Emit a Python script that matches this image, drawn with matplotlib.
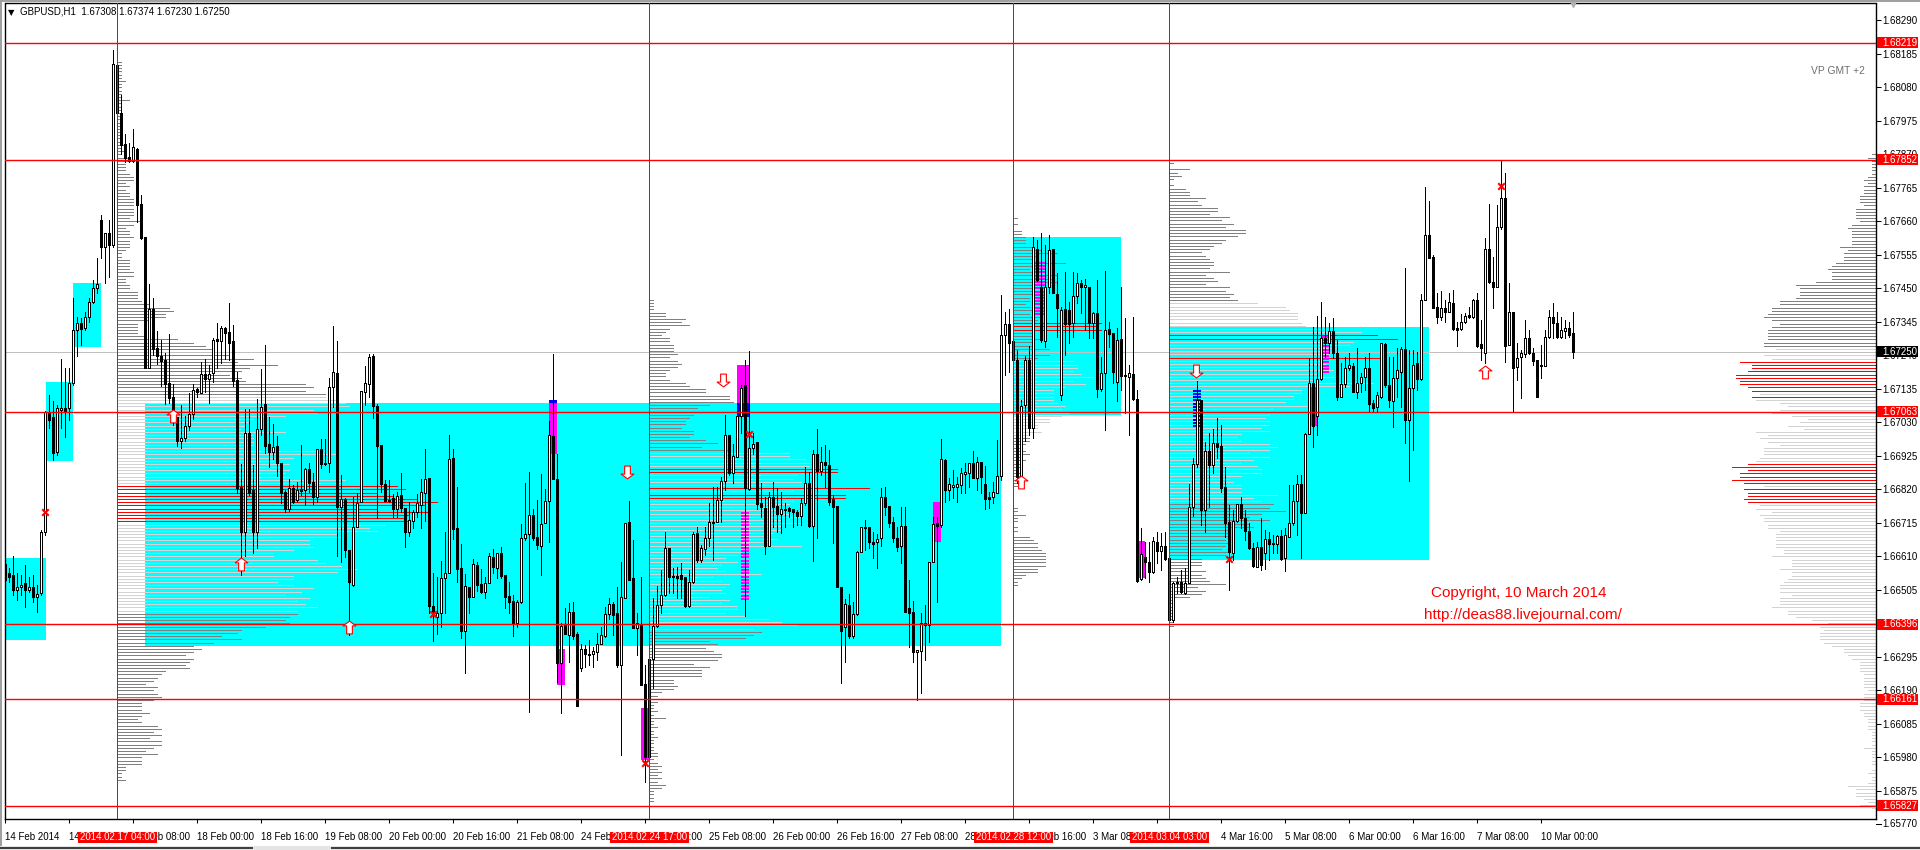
import numpy as np
import matplotlib
matplotlib.use("Agg")
import matplotlib.pyplot as plt
from matplotlib.patches import Rectangle
from matplotlib.path import Path

plt.rcParams['font.family'] = ['Liberation Sans', 'DejaVu Sans']

# GBPUSD H1 candles, values are points above 1.60000
opens = [
    6585,6557,6551,6504,6513,6526,6504,6513,6482,6495,6686,7059,7046,6936,7068,7074,
    7074,7153,7319,7341,7325,7360,7407,7450,7664,7579,7623,7585,8149,7999,7902,7861,
    7848,7886,7714,7610,7200,7385,7262,7237,7225,7153,7109,7046,6971,6980,7018,7056,
    7134,7121,7181,7165,7184,7291,7284,7325,7313,7284,7162,6827,6686,6996,6817,6686,
    7008,7087,6961,6936,6955,6902,6811,6758,6824,6786,6820,6817,6883,6842,6795,6946,
    6902,6902,7140,7184,6764,6789,6629,6520,6702,6780,7125,7150,7237,7081,6958,6836,
    6786,6792,6758,6802,6761,6686,6720,6748,6770,6808,6855,6454,6419,6432,6542,6557,
    6918,6698,6573,6375,6513,6482,6582,6523,6498,6526,6607,6573,6620,6551,6485,6470,
    6401,6466,6667,6680,6739,6670,6642,6714,6783,6986,6852,6275,6394,6363,6435,6366,
    6259,6319,6303,6303,6310,6335,6360,6429,6460,6432,6269,6479,6717,6542,6385,6397,
    6209,5981,6288,6391,6457,6488,6636,6545,6548,6551,6545,6454,6529,6683,6598,6633,
    6667,6714,6717,6786,6846,6990,6870,6921,7049,7147,6821,6949,6968,6777,6761,6642,
    6795,6767,6742,6755,6761,6758,6748,6736,6777,6839,6705,6930,6877,6905,6896,6789,
    6767,6513,6388,6457,6360,6429,6623,6702,6702,6654,6654,6667,6795,6767,6717,6667,
    6642,6705,6448,6435,6310,6313,6401,6394,6592,6714,6708,6911,6817,6827,6827,6833,
    6868,6871,6902,6855,6905,6836,6795,6795,6808,6861,7303,7338,7284,7225,6858,7084,
    7225,7012,7573,7454,7284,7454,7573,7432,7115,7385,7381,7341,7425,7466,7454,7454,
    7341,7372,7134,7184,7322,7309,7156,7291,7178,7172,7181,7103,6539,6607,6592,6560,
    6654,6626,6642,6604,6410,6529,6529,6495,6526,6764,6899,7099,6755,6940,6896,6965,
    6955,6827,6717,6620,6720,6773,6730,6689,6636,6576,6639,6620,6664,6651,6648,6673,
    6604,6670,6714,6783,6836,6745,6993,7153,7049,7165,7294,7278,7316,7247,7109,7150,
    7200,7206,7125,7153,7172,7200,7090,7078,7109,7275,7147,7096,7168,7187,7259,7037,
    7137,7215,7165,7413,7617,7548,7391,7360,7388,7375,7403,7325,7322,7344,7366,7360,
    7413,7275,7247,7573,7469,7454,7642,7733,7272,7375,7203,7234,7244,7294,7247,7225,
    7206,7206,7297,7360,7341,7297,7316,7325,7308]
highs = [
    6595,6573,6611,6557,6551,6582,6545,6551,6520,6692,7065,7115,7096,7084,7228,7200,
    7200,7419,7360,7357,7375,7419,7476,7545,7679,7623,7664,8196,8155,8055,7933,7905,
    7949,7889,7742,7610,7463,7419,7316,7287,7247,7306,7150,7046,7084,7049,7121,7150,
    7137,7219,7228,7209,7294,7341,7331,7328,7403,7335,7187,6899,7071,7071,6896,7103,
    7197,7272,7046,7024,6986,6902,6817,6852,6833,6842,6958,6886,6902,6871,6946,6977,
    6977,7168,7331,7284,6864,6792,6629,6795,6808,7128,7206,7244,7244,7087,6958,6849,
    6849,6805,6811,6871,6761,6780,6755,6805,6852,6946,6855,6557,6545,6595,6686,6990,
    6946,6827,6648,6554,6513,6601,6592,6570,6545,6620,6632,6620,6639,6551,6529,6488,
    6473,6711,6839,6874,6758,6786,6868,6820,7034,7244,6930,6401,6448,6463,6466,6372,
    6335,6332,6347,6325,6369,6388,6451,6479,6466,6513,6592,6714,6783,6661,6432,6545,
    6269,6294,6479,6517,6567,6686,6636,6573,6576,6589,6545,6567,6686,6702,6645,6702,
    6777,6827,6827,6858,7052,6990,6961,7049,7147,7225,7253,6996,6968,6839,6795,6811,
    6842,6824,6811,6777,6764,6758,6755,6792,6889,6874,6943,7008,6952,6958,6943,6802,
    6767,6513,6476,6492,6466,6626,6702,6723,6702,6686,6680,6824,6827,6767,6733,6702,
    6764,6764,6535,6470,6316,6432,6457,6592,6733,6733,6977,6914,6855,6880,6858,6886,
    6902,6902,6939,6921,6905,6892,6811,6842,6974,7428,7375,7385,7303,7256,7099,7237,
    7269,7610,7601,7623,7585,7617,7573,7497,7391,7501,7407,7501,7497,7476,7479,7454,
    7375,7476,7234,7504,7344,7309,7325,7454,7357,7209,7360,7131,6698,6654,6654,6670,
    6686,6683,6686,6604,6529,6545,6567,6573,6836,6918,7159,7099,6968,6996,7008,7043,
    7021,6889,6770,6755,6773,6795,6755,6714,6651,6654,6730,6692,6686,6676,6676,6692,
    6698,6833,6833,6864,6864,6996,7231,7328,7363,7407,7360,7341,7357,7287,7215,7234,
    7247,7215,7262,7184,7234,7247,7099,7125,7278,7278,7234,7234,7262,7266,7513,7256,
    7256,7250,7432,7767,7723,7554,7435,7441,7413,7435,7444,7344,7369,7372,7391,7416,
    7435,7350,7607,7714,7548,7711,7848,7811,7466,7375,7278,7256,7350,7319,7262,7225,
    7272,7319,7381,7403,7375,7360,7350,7344,7374]
lows = [
    6523,6529,6488,6473,6488,6451,6498,6467,6435,6488,6677,7012,6911,6927,7012,6983,
    7037,7147,7237,7272,7319,7344,7403,7435,7545,7466,7485,7579,7999,7870,7845,7845,
    7845,7657,7604,7200,7200,7241,7212,7143,7087,7090,7021,6955,6949,6971,7005,7040,
    7109,7121,7125,7090,7156,7200,7215,7228,7225,7143,6808,6551,6611,6802,6620,6636,
    6990,6933,6889,6914,6861,6777,6748,6752,6777,6780,6802,6770,6811,6773,6780,6886,
    6896,6874,7078,6611,6592,6607,6363,6516,6702,6780,7084,7109,7043,6730,6811,6783,
    6780,6733,6733,6748,6639,6673,6698,6733,6698,6720,6432,6344,6366,6388,6432,6557,
    6664,6529,6353,6244,6432,6482,6501,6495,6479,6526,6557,6542,6542,6448,6432,6360,
    6388,6463,6661,6122,6661,6632,6551,6714,6654,6852,6216,6119,6366,6278,6350,6141,
    6250,6263,6269,6263,6285,6335,6357,6413,6363,6263,5987,6479,6535,6385,6300,6206,
    5903,5971,6197,6388,6432,6485,6495,6495,6479,6479,6451,6451,6526,6592,6592,6614,
    6642,6598,6717,6717,6817,6864,6839,6921,6996,6423,6817,6930,6758,6733,6617,6642,
    6702,6686,6683,6702,6733,6702,6708,6708,6770,6702,6595,6667,6864,6827,6770,6651,
    6513,6212,6278,6353,6353,6426,6623,6629,6636,6604,6573,6642,6739,6702,6654,6626,
    6589,6435,6325,6278,6159,6181,6285,6341,6592,6466,6702,6780,6786,6792,6780,6808,
    6808,6827,6855,6817,6808,6758,6761,6777,6808,6849,7178,7187,7178,6839,6849,6971,
    6990,6980,7472,7281,7266,7435,7435,7297,7099,7241,7278,7297,7403,7372,7319,7294,
    7294,7109,7128,7005,7266,7153,7096,7131,7059,6990,7099,6529,6535,6542,6529,6557,
    6589,6567,6598,6410,6404,6495,6495,6492,6526,6736,6889,6708,6686,6764,6871,6918,
    6811,6670,6504,6598,6717,6698,6661,6633,6576,6576,6567,6570,6598,6620,6620,6598,
    6564,6670,6708,6676,6604,6745,6993,6952,6990,7162,7234,7247,7231,7099,7109,7140,
    7193,7125,7106,7125,7131,7062,7062,7062,7106,7140,7078,7015,7109,7078,6965,6846,
    6943,7131,7162,7413,7545,7388,7341,7350,7344,7375,7319,7269,7319,7341,7357,7357,
    7266,7225,7215,7466,7388,7454,7635,7219,7272,7062,7162,7106,7234,7244,7209,7109,
    7168,7206,7294,7294,7294,7294,7294,7297,7230]
closes = [
    6535,6545,6504,6513,6520,6504,6513,6482,6492,6686,7062,7037,6933,7074,7074,7065,
    7153,7319,7341,7322,7360,7407,7450,7463,7579,7623,7585,8152,7999,7899,7858,7848,
    7892,7711,7607,7200,7385,7259,7237,7222,7150,7106,7043,6971,6980,7018,7056,7131,
    7125,7181,7165,7181,7287,7284,7325,7309,7278,7159,6824,6686,6996,6808,6686,7008,
    7078,6955,6936,6952,6902,6808,6758,6824,6780,6817,6814,6883,6839,6795,6946,6899,
    6899,7140,7187,6764,6789,6629,6529,6702,6777,7128,7153,7234,7081,6955,6836,6783,
    6783,6758,6798,6761,6686,6723,6748,6777,6811,6852,6454,6432,6432,6542,6557,6914,
    6695,6570,6375,6516,6482,6585,6520,6498,6526,6611,6576,6620,6548,6482,6466,6401,
    6466,6667,6680,6739,6667,6645,6711,6783,6990,6852,6275,6391,6366,6435,6360,6141,
    6319,6303,6300,6313,6335,6363,6429,6460,6426,6269,6482,6714,6535,6385,6401,6206,
    5981,6288,6391,6457,6488,6636,6545,6548,6542,6539,6454,6529,6680,6598,6636,6667,
    6717,6717,6786,6846,6990,6870,6924,7049,7137,6824,6949,6961,6773,6764,6642,6795,
    6764,6742,6758,6758,6752,6748,6736,6777,6839,6705,6930,6877,6905,6896,6780,6764,
    6513,6375,6460,6360,6429,6623,6702,6698,6654,6648,6664,6795,6764,6714,6667,6639,
    6705,6435,6432,6310,6316,6401,6394,6592,6711,6705,6914,6817,6836,6833,6836,6871,
    6874,6902,6855,6905,6858,6789,6789,6811,6861,7303,7338,7278,7225,6858,7081,7225,
    7012,7579,7476,7287,7454,7570,7435,7388,7381,7338,7338,7425,7466,7454,7460,7341,
    7372,7134,7184,7319,7306,7187,7287,7175,7175,7184,7103,6532,6617,6592,6560,6658,
    6626,6642,6601,6410,6526,6526,6498,6526,6764,6899,7099,6755,6940,6896,6965,6952,
    6824,6714,6623,6720,6773,6730,6689,6636,6579,6639,6582,6664,6648,6648,6673,6601,
    6676,6714,6783,6836,6745,6993,7153,7018,7165,7294,7278,7316,7247,7109,7150,7200,
    7209,7125,7153,7172,7200,7087,7074,7115,7278,7147,7099,7168,7193,7259,7037,7137,
    7209,7165,7413,7617,7545,7388,7360,7388,7375,7407,7322,7319,7344,7363,7360,7413,
    7269,7262,7573,7469,7454,7642,7733,7269,7375,7200,7231,7247,7294,7247,7222,7109,
    7209,7297,7360,7341,7297,7319,7325,7303,7250]

# volume profiles: one row per 10 points, going down from the top price
left_vol = [
    1,1,1,1,1,1,2,1,1,1,1,1,3,1,1,1,1,1,1,1,1,1,1,1,1,1,2,1,2,1,
    3,4,2,2,2,3,4,4,2,3,2,3,3,4,4,4,4,4,4,3,6,4,2,3,3,4,3,3,3,2,1,1,3,3,3,3,4,4,2,2,3,3,5,5,5,6,8,
    13,14,12,12,8,5,5,5,5,7,15,19,22,24,26,28,34,30,40,33,31,28,31,32,47,49,47,52,
    52,55,57,58,49,50,42,34,33,32,31,42,34,34,34,34,32,50,55,44,39,43,41,43,42,43,57,56,
    70,72,65,69,75,80,77,65,78,73,72,73,
    67,63,65,55,56,48,48,49,44,39,39,50,52,56,60,55,44,44,40,44,49,46,42,48,45,47,50,45,
    45,43,42,43,37,31,30,26,31,24,19,21,19,17,19,18,17,18,12,11,10,9,7,10,9,10,11,9,6,6,6,8,6,5,6,
    10,11,9,11,8,11,11,9,7,10,6,6,6,2,2,1,1,2]
second_vol = [
    1,1,1,1,4,4,9,8,10,5,4,3,5,5,6,6,6,7,5,7,8,7,5,4,4,5,9,10,14,14,20,20,21,
    15,12,13,11,10,9,9,8,11,11,10,14,17,13,20,
    35,35,39,40,40,47,47,37,36,38,38,55,36,49,49,36,35,31,32,35,38,33,38,33,33,31,30,32,30,38,
    24,23,22,19,22,18,17,19,28,16,18,20,19,18,19,15,20,18,22,22,19,24,30,33,37,26,28,26,24,15,
    17,14,16,18,18,17,11,15,13,13,13,6,6,7,6,3,2,2,2,1,1,2,1,4,
    1,1,2,1,1,2,1,1,1,1,2,2,1,2,3,2,3,2,3,2,4,3,1,1,1,1]
third_vol = [
    1,0,1,0,2,2,3,3,3,5,7,11,6,5,13,6,4,5,11,10,11,6,5,8,6,4,4,3,4,8,4,7,6,
    22,21,22,5,5,7,5,5,9,8,9,6,
    15,16,16,15,17,20,15,18,13,10,10,10,10,11,13,12,14,12,9,9,6,6,7,4,
    4,4,3,2,3,4,2,3,2,2,1,2,2,1,2,1,0,0,0,0,0,0,1,1,3,1,1,0,1,1,0,
    4,5,6,6,7,8,8,8,8,8,6,6,3,2,1,1]
fourth_vol = [
    1,0,5,2,3,1,0,1,4,5,5,9,7,8,12,12,10,15,13,16,14,19,19,17,14,13,11,10,8,9,10,11,11,10,15,9,11,12,9,15,14,16,15,17,
    22,29,30,32,32,32,33,34,39,48,52,57,46,45,42,38,40,53,40,39,36,41,37,41,36,51,45,33,33,31,31,29,35,26,29,25,24,25,
    25,23,25,18,17,18,25,27,25,20,25,21,18,22,23,23,18,15,16,18,18,18,27,21,23,
    26,25,29,23,20,25,20,21,15,15,15,14,15,14,13,15,14,8,8,8,5,9,8,9,10,14,7,9,8,5,1,1,1,1,1,1,1,1,1]
right_vol = [
    1,2,1,1,1,1,1,2,3,2,3,3,3,4,4,4,3,5,5,5,5,4,6,7,6,6,6,6,6,9,7,8,8,8,10,11,12,11,11,11,
    15,20,19,19,19,20,24,24,26,26,27,28,26,24,26,27,27,27,27,28,28,
    25,26,28,26,34,31,31,32,35,35,34,34,32,31,29,31,30,24,22,24,26,21,17,19,
    22,18,30,27,29,27,24,28,28,28,29,30,32,36,32,34,34,36,33,28,33,32,32,33,32,
    29,30,26,29,28,28,27,27,24,25,25,25,25,25,23,23,26,21,21,21,24,21,21,22,23,24,24,24,21,24,24,24,26,22,22,20,
    16,12,14,13,14,14,14,13,11,8,8,7,6,4,4,4,4,3,3,3,3,3,2,3,3,3,4,4,4,3,3,2,2,2,2,
    1,1,1,1,1,3,1,1,1,1,1,0,1,2,1,1,2,7,5,5,5,3,2,4,1]

# bar index of the tick labels and their texts
x_tick_bars = [1, 17, 33, 49, 65, 81, 97, 113, 129, 145, 161, 177, 193, 209, 225, 241, 257,
               273, 289, 305, 321, 337, 353, 369, 385]
x_tick_labels = ["14 Feb 2014", "14 Feb 16:00", "17 Feb 08:00", "18 Feb 00:00", "18 Feb 16:00",
                 "19 Feb 08:00", "20 Feb 00:00", "20 Feb 16:00", "21 Feb 08:00", "24 Feb 00:00",
                 "24 Feb 16:00", "25 Feb 08:00", "26 Feb 00:00", "26 Feb 16:00", "27 Feb 08:00",
                 "28 Feb 00:00", "28 Feb 16:00", "3 Mar 08:00", "4 Mar 00:00", "4 Mar 16:00",
                 "5 Mar 08:00", "6 Mar 00:00", "6 Mar 16:00", "7 Mar 08:00", "10 Mar 00:00"]
y_ticks = [1.68290, 1.68185, 1.68080, 1.67975, 1.67870, 1.67765, 1.67660, 1.67555, 1.67450,
           1.67345, 1.67240, 1.67135, 1.67030, 1.66925, 1.66820, 1.66715, 1.66610, 1.66505,
           1.66400, 1.66295, 1.66190, 1.66085, 1.65980, 1.65875]
red_prices = [1.68219, 1.67852, 1.67063, 1.66396, 1.66161, 1.65827]
last_price = 1.67250
session_bars = [29, 162, 253, 292]
session_labels = ["2014.02.17 04:00", "2014.02.24 17:00", "2014.02.28 12:00", "2014.03.04 03:00"]

# value areas: left bar, right bar, upper price, lower price
cyan_left = [0.8, 11.2, 18, 36, 253, 292]
cyan_right = [11.2, 18, 25, 250, 280, 357]
cyan_top = [1.66605, 1.67156, 1.67466, 1.67090, 1.67610, 1.67329]
cyan_bottom = [1.66347, 1.66908, 1.67265, 1.66328, 1.67052, 1.66598]

solid_left = [136.9, 138.9, 159.9, 184, 233, 284.4, 327.2]
solid_right = [138.9, 140.9, 161.9, 187, 235, 286, 329.2]
solid_top = [1.67090, 1.66319, 1.66134, 1.67209, 1.66780, 1.66658, 1.67140]
solid_bottom = [1.66930, 1.66206, 1.65971, 1.67090, 1.66654, 1.66542, 1.67018]
blue_left = [136.9, 184]
blue_right = [138.9, 187]
blue_top = [1.67099, 1.67090]
blue_bottom = [1.67090, 1.67046]
stripe_left = [185, 258.4, 298, 330]
stripe_right = [187, 261, 300, 332]
stripe_top = [1.66752, 1.67529, 1.67134, 1.67306]
stripe_bottom = [1.66476, 1.67369, 1.67018, 1.67187]
stripe_colors = ['#ff00ff', '#ff00ff', '#0000ff', '#ff00ff']

up_bars = [43, 60, 87, 255, 371]
up_prices = [1.67049, 1.66585, 1.66388, 1.66842, 1.67187]
down_bars = [156.5, 180.4, 298.7]
down_prices = [1.66874, 1.67162, 1.67190]
cross_bars = [11, 108, 161, 187, 307, 375]
cross_prices = [1.66749, 1.66429, 1.65962, 1.66993, 1.66601, 1.67770]

fig = plt.figure(figsize=(19.2, 8.5), dpi=100, facecolor='white')
ax = fig.add_axes([4.5 / 1920, 1 - 819 / 850, (1876 - 4.5) / 1920, (819 - 3.5) / 850])
ax.set_xlim(0.8, 468.675)
ax.set_ylim(1.65786, 1.68342)

xs = np.arange(1, len(opens) + 1)
o = 1.6 + np.array(opens) / 1e5
h = 1.6 + np.array(highs) / 1e5
l = 1.6 + np.array(lows) / 1e5
c = 1.6 + np.array(closes) / 1e5

# cyan value areas
for x0, x1, t, b in zip(cyan_left, cyan_right, cyan_top, cyan_bottom):
    ax.add_patch(Rectangle((x0, b), x1 - x0, t - b, fc='#00ffff', ec='none', zorder=1))


def draw_profile(start, top, vols, light, red, from_right=False):
    levels = top - np.arange(len(vols)) * 0.0001
    vols = np.array(vols)
    is_red = np.isin(np.arange(len(vols)), list(red))
    colors = []
    for i in range(len(vols)):
        if light[0] <= i <= light[1]:
            colors.append('#d3d3d3')
        else:
            colors.append('#808080')
    colors = np.array(colors)
    keep = (vols > 0) & ~is_red
    if from_right:
        x0, x1 = start - vols, np.full(len(vols), start)
    else:
        x0, x1 = np.full(len(vols), start), start + vols
    ax.hlines(levels[keep], x0[keep], x1[keep], colors=colors[keep],
              lw=0.5, antialiased=False, zorder=2)
    ax.hlines(levels[is_red], x0[is_red], x1[is_red], colors='#ff0000',
              lw=0.6, antialiased=False, zorder=2.1)


draw_profile(29, 1.68159, left_vol, (105, 172), range(133, 145))
draw_profile(162, 1.67413, second_vol, (48, 103), [53, 54, 59, 61, 62])
draw_profile(253, 1.67670, third_vol, (45, 68), [33, 34, 35])
draw_profile(292, 1.67842, fourth_vol, (44, 106), [54, 55, 61])
draw_profile(468.675, 1.67869, right_vol, (61, 206),
             list(range(65, 75)) + [76] + list(range(97, 104)) + list(range(105, 110)), from_right=True)

# magenta / blue highlight blocks
for x0, x1, t, b in zip(solid_left, solid_right, solid_top, solid_bottom):
    ax.add_patch(Rectangle((x0, b), x1 - x0, t - b, fc='#ff00ff', ec='none', zorder=3))
for x0, x1, t, b in zip(blue_left, blue_right, blue_top, blue_bottom):
    ax.add_patch(Rectangle((x0, b), x1 - x0, t - b, fc='#0000ff', ec='none', zorder=3))
for x0, x1, t, b, col in zip(stripe_left, stripe_right, stripe_top, stripe_bottom, stripe_colors):
    rows = np.arange(b, t, 0.0001)
    ax.hlines(rows, x0, x1, colors=col, lw=1.2, antialiased=False, zorder=3)

# current price line goes under the candles
ax.axhline(last_price, color='#c0c0c0', lw=0.5, antialiased=False, zorder=2)

# candles
up = c >= o
ax.vlines(xs, l, h, colors='black', lw=0.5, antialiased=False, zorder=4)
ax.bar(xs[up], np.abs(c - o)[up], bottom=np.minimum(o, c)[up], width=0.5, fc='white', ec='black',
       lw=0.5, antialiased=False, zorder=4.1)
ax.bar(xs[~up], np.abs(c - o)[~up], bottom=np.minimum(o, c)[~up], width=0.5, fc='black', ec='black',
       lw=0.5, antialiased=False, zorder=4.1)

# horizontal and vertical red levels
for p in red_prices:
    ax.axhline(p, color='#ff0000', lw=1.0, zorder=5)
for k in session_bars:
    ax.axvline(k, color='#ff0000', lw=0.6, antialiased=False, zorder=5)

# arrows and crosses
up_arrow = Path([(0, 1), (1, 0.25), (0.45, 0.25), (0.45, -1), (-0.45, -1), (-0.45, 0.25), (-1, 0.25), (0, 1)], closed=True)
down_arrow = Path([(0, -1), (1, -0.25), (0.45, -0.25), (0.45, 1), (-0.45, 1), (-0.45, -0.25), (-1, -0.25), (0, -1)], closed=True)
ax.scatter(up_bars, up_prices, marker=up_arrow, s=85, fc='white', ec='#ff0000', lw=0.8, zorder=6)
ax.scatter(down_bars, down_prices, marker=down_arrow, s=85, fc='white', ec='#ff0000', lw=0.8, zorder=6)
ax.scatter(cross_bars, cross_prices, marker='x', s=22, color='#ff0000', lw=1.5, zorder=6)

# axes and ticks
for side in ('top', 'left', 'right', 'bottom'):
    ax.spines[side].set_linewidth(1.0)
    ax.spines[side].set_color('black')
ax.yaxis.tick_right()
ax.set_yticks(y_ticks, [f"{v:.5f}" for v in y_ticks], fontsize=7)
ax.tick_params(axis='y', direction='out', length=3.6, width=0.75, pad=1.2)
ax.set_xticks(x_tick_bars, x_tick_labels, fontsize=7, ha='left')
ax.tick_params(axis='x', direction='out', length=3.0, width=0.75, pad=6)

ytrans = ax.get_yaxis_transform()
xtrans = ax.get_xaxis_transform()
ax.plot([1, 1 + 5 / 1871.5], [1.65770, 1.65770], transform=ytrans, color='black', lw=0.75, clip_on=False)
ax.text(1 + 6 / 1871.5, 1.65770, "1.65770", transform=ytrans, fontsize=7, va='center', ha='left', clip_on=False)

# price flags on the right scale
flag_prices = red_prices + [last_price]
flag_colors = ['#ff0000'] * len(red_prices) + ['black']
for p, col in zip(flag_prices, flag_colors):
    ax.add_patch(Rectangle((1 + 1 / 1871.5, p - 5.5 / 31905), 41 / 1871.5, 11 / 31905, transform=ytrans,
                           fc=col, ec='none', clip_on=False, zorder=10))
    ax.text(1 + 6 / 1871.5, p, f"{p:.5f}", transform=ytrans, color='white', fontsize=7,
            va='center', ha='left', clip_on=False, zorder=11)

# time flags on the bottom scale
for k, txt in zip(session_bars, session_labels):
    ax.add_patch(Rectangle((k - 9.9, -24 / 815.5), 19.8, 11 / 815.5, transform=xtrans,
                           fc='#ff0000', ec='none', clip_on=False, zorder=10))
    ax.text(k, -18.5 / 815.5, txt, transform=xtrans, color='white', fontsize=7,
            va='center', ha='center', clip_on=False, zorder=11)

# annotations
ax.text(452.4, 1.68130, "VP GMT +2", color='#707070', fontsize=7.4, va='center', ha='left', zorder=7)
ax.text(357.4, 1.66495, "Copyright, 10 March 2014", color='#ff0000', fontsize=11, va='center', ha='left', zorder=7)
ax.text(355.7, 1.66426, "http://deas88.livejournal.com/", color='#ff0000', fontsize=11, va='center', ha='left', zorder=7)
fig.text(20 / 1920, 1 - 12 / 850, "GBPUSD,H1  1.67308 1.67374 1.67230 1.67250", fontsize=7, va='center', ha='left', color='black')
fig.text(8 / 1920, 1 - 12.5 / 850, "\u25bc", fontsize=6, va='center', ha='left', color='black', family=['DejaVu Sans'])
ax.plot([393], [1.0 - 0.001], transform=xtrans, marker='v', ms=5, color='#b0b0b0', clip_on=False, zorder=7)


def px_rect(x0, y0, x1, y1, col):
    fig.add_artist(Rectangle((x0 / 1920, 1 - y1 / 850), (x1 - x0) / 1920, (y1 - y0) / 850,
                             transform=fig.transFigure, fc=col, ec='none'))


# window edges of the terminal
px_rect(0, 0, 1920, 2, '#a0a0a0')
px_rect(0, 0, 2, 850, '#a0a0a0')
px_rect(0, 846, 1920, 850, '#e4e4e4')
px_rect(0, 847, 253, 849, '#404040')
px_rect(331, 847, 1920, 849, '#404040')

fig.savefig('out.png', dpi=100)
